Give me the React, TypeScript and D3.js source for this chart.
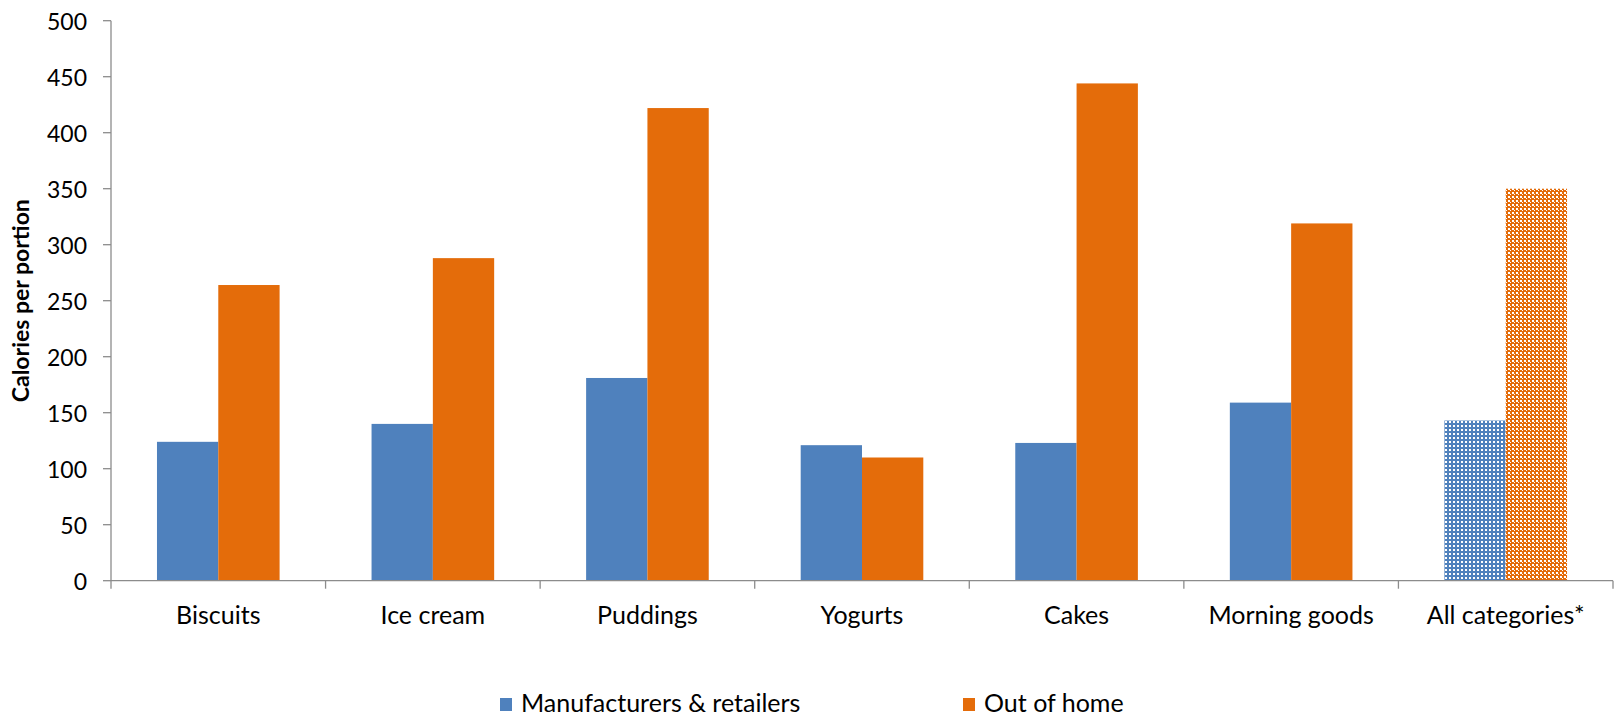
import React from "react";
import * as d3 from "d3";

const categories = ["Biscuits", "Ice cream", "Puddings", "Yogurts", "Cakes", "Morning goods", "All categories*"];
const manufacturers = [124, 140, 181, 121, 123, 159, 143];
const outOfHome = [264, 288, 422, 110, 444, 319, 350];
const seriesNames = ["Manufacturers & retailers", "Out of home"];
const yTicks = [0, 50, 100, 150, 200, 250, 300, 350, 400, 450, 500];
const patternedCategory = "All categories*";

const W = 1615;
const H = 716;
const left = 111;
const right = 1613;
const top = 20.7;
const bottom = 580.7;
const FONT = "Lato, 'Open Sans', sans-serif";
const BLUE = "#4F81BD";
const ORANGE = "#E46C0A";
const AXIS = "#8c8c8c";

export default function App() {
  const x = d3.scaleBand<string>().domain(categories).range([left, right]).paddingInner(0).paddingOuter(0);
  const band = x.bandwidth();
  const barW = band / 3.5;
  const gap = band - 2 * barW;
  const x1 = d3.scaleBand<string>().domain(seriesNames).range([0, 2 * barW]);
  const y = d3.scaleLinear().domain([0, 500]).range([bottom, top]);

  const data = categories.map((c, i) => ({ c, vals: [manufacturers[i], outOfHome[i]] }));
  const colors = [BLUE, ORANGE];
  const patterns = ["url(#patBlue)", "url(#patOrange)"];

  const catTicks = d3.range(categories.length + 1).map((i) => left + i * band);

  const legendItems = [
    { name: seriesNames[0], color: BLUE, x: 500 },
    { name: seriesNames[1], color: ORANGE, x: 963 },
  ];

  return (
    <svg
      width={W}
      height={H}
      style={{ position: "absolute", left: 0, top: 0, display: "block", background: "#fff" }}
      fontFamily={FONT}
    >
      <defs>
        <pattern id="patBlue" width={4} height={4} patternUnits="userSpaceOnUse">
          <rect width={4} height={4} fill={BLUE} />
          <rect x={1} y={1} width={2} height={2} fill="#fff" shapeRendering="crispEdges" />
        </pattern>
        <pattern id="patOrange" width={4} height={4} patternUnits="userSpaceOnUse">
          <rect width={4} height={4} fill={ORANGE} />
          <rect x={0} y={0} width={2} height={2} fill="#fff" shapeRendering="crispEdges" />
          <rect x={2} y={2} width={1} height={1} fill="#fff" shapeRendering="crispEdges" />
        </pattern>
      </defs>
      <rect width={W} height={H} fill="#fff" />

      {data.map((d) => (
        <g key={d.c}>
          {d.vals.map((v, j) => (
            <rect
              key={j}
              x={(x(d.c) as number) + gap / 2 + (x1(seriesNames[j]) as number)}
              y={y(v)}
              width={x1.bandwidth()}
              height={y(0) - y(v)}
              fill={d.c === patternedCategory ? patterns[j] : colors[j]}
            />
          ))}
        </g>
      ))}

      {/* y axis */}
      <line x1={left} x2={left} y1={top} y2={bottom} stroke={AXIS} strokeWidth={1.3} />
      {yTicks.map((t) => (
        <g key={t}>
          <line x1={left - 8} x2={left} y1={y(t)} y2={y(t)} stroke={AXIS} strokeWidth={1.3} />
          <text x={left - 24} y={y(t)} textAnchor="end" dominantBaseline="central" fontSize={23} fill="#000">
            {t}
          </text>
        </g>
      ))}

      {/* x axis */}
      <line x1={left} x2={right} y1={bottom} y2={bottom} stroke={AXIS} strokeWidth={1.3} />
      {catTicks.map((tx, i) => (
        <line key={i} x1={tx} x2={tx} y1={bottom} y2={bottom + 8} stroke={AXIS} strokeWidth={1.3} />
      ))}
      {categories.map((c) => (
        <text key={c} x={(x(c) as number) + band / 2} y={624} textAnchor="middle" fontSize={25} fill="#000">
          {c}
        </text>
      ))}

      {/* y label */}
      <text
        transform={`translate(29, ${(top + bottom) / 2}) rotate(-90)`}
        textAnchor="middle"
        fontSize={23}
        fontWeight="bold"
        fill="#000"
      >
        Calories per portion
      </text>

      {/* legend */}
      <g>
        {legendItems.map((it) => (
          <g key={it.name}>
            <rect x={it.x} y={698} width={12} height={13} fill={it.color} />
            <text x={it.x + 21} y={712} fontSize={25} fill="#000">{it.name}</text>
          </g>
        ))}
      </g>
    </svg>
  );
}
